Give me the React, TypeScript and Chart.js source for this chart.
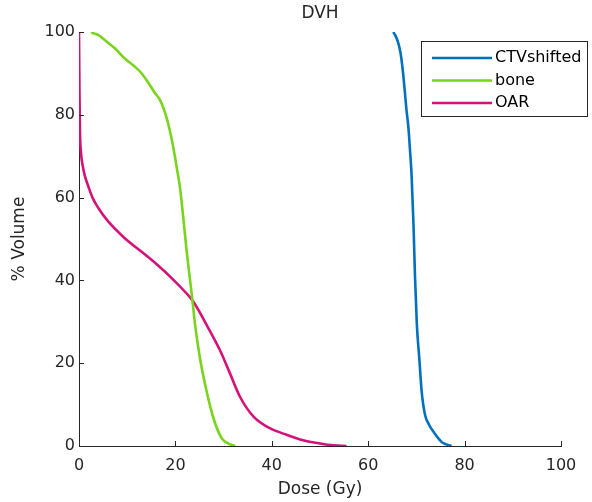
import React, { useEffect, useRef } from "react";
import { Chart, registerables } from "chart.js";

Chart.register(...registerables);

const titleText = "DVH";
const xTitle = "Dose (Gy)";
const yTitle = "% Volume";
const xTicks = [0, 20, 40, 60, 80, 100];
const yTicks = [0, 20, 40, 60, 80, 100];

const seriesNames = ["CTVshifted", "bone", "OAR"];
const seriesColors = ["#0072BD", "#78D41C", "#D4127A"];

const ctvDose = [65.2, 65.7, 66.2, 66.7, 67.2, 67.6, 68.0, 68.3, 68.7, 69.0, 69.4, 69.7, 70.1, 70.6, 71.1, 71.8, 72.6, 73.5, 75.2, 76.2, 77.3];
const ctvVol = [100, 99, 97.5, 95, 90.5, 85.6, 80.5, 77.5, 71, 65.5, 53.4, 41.3, 29.2, 21.2, 13.1, 7.5, 5.2, 3.5, 1.0, 0.4, 0];

const boneDose = [2.5, 3.2, 4.0, 5.4, 7.5, 9.5, 11.6, 12.7, 14.0, 15.8, 16.8, 18.2, 18.9, 19.6, 20.3, 21.0, 21.6, 22.3, 23.0, 23.5, 24.1, 25.1, 26.5, 27.9, 29.6, 31.0, 32.4];
const boneVol = [100, 99.6, 99.3, 98, 96, 93.6, 91.6, 90.4, 88.4, 85.2, 83.6, 79.2, 75.9, 71.9, 67.1, 62.0, 55.5, 47.5, 40.5, 35.5, 29.2, 21.2, 13.1, 6.7, 1.9, 0.6, 0];

const oarDose = [0, 0.1, 0.2, 0.4, 0.8, 1.2, 2.0, 2.8, 4.0, 6.1, 9.5, 13.0, 16.3, 19.8, 21.8, 23.7, 26.5, 29.3, 31.3, 33.4, 36.2, 39.6, 43.1, 46.5, 50.0, 52.8, 55.5];
const oarVol = [100, 85, 76, 71, 67.5, 65.3, 62.5, 60, 57.5, 54.2, 50.2, 46.9, 43.7, 39.9, 37.5, 34.9, 29.2, 23.0, 17.6, 11.9, 7.1, 4.3, 2.7, 1.4, 0.6, 0.15, 0];

const doses = [ctvDose, boneDose, oarDose];
const vols = [ctvVol, boneVol, oarVol];

const TEXT = "#262626";
const FONT = "'DejaVu Sans', sans-serif";

const decorPlugin = {
  id: "decor",
  afterDraw(chart: any) {
    const ctx = chart.ctx;
    const xs = chart.scales.x;
    const ys = chart.scales.y;
    const area = chart.chartArea;
    ctx.save();
    ctx.strokeStyle = TEXT;
    ctx.lineWidth = 1;
    ctx.beginPath();
    xTicks.forEach((t) => {
      const px = Math.round(xs.getPixelForValue(t)) + 0.5;
      ctx.moveTo(px, area.bottom);
      ctx.lineTo(px, area.bottom - 5);
    });
    yTicks.forEach((t) => {
      const py = Math.round(ys.getPixelForValue(t)) + 0.5;
      ctx.moveTo(area.left, py);
      ctx.lineTo(area.left + 5, py);
    });
    ctx.stroke();
    ctx.fillStyle = TEXT;
    ctx.font = "17px " + FONT;
    ctx.textAlign = "center";
    ctx.textBaseline = "middle";
    ctx.fillText(titleText, (area.left + area.right) / 2, 14);
    const bx = 421.5, by = 41.5, bw = 166, bh = 75;
    ctx.fillStyle = "#fff";
    ctx.fillRect(bx, by, bw, bh);
    ctx.strokeStyle = TEXT;
    ctx.lineWidth = 1;
    ctx.strokeRect(bx, by, bw, bh);
    const rows = [58, 80.5, 103];
    chart.data.datasets.forEach((ds: any, i: number) => {
      const y = rows[i];
      ctx.strokeStyle = ds.borderColor;
      ctx.lineWidth = 2.5;
      ctx.beginPath();
      ctx.moveTo(432, y);
      ctx.lineTo(492, y);
      ctx.stroke();
      ctx.fillStyle = "#000";
      ctx.font = "16px " + FONT;
      ctx.textAlign = "left";
      ctx.textBaseline = "middle";
      ctx.fillText(ds.label, 495, y);
    });
    ctx.restore();
  },
};

export default function App() {
  const ref = useRef<HTMLCanvasElement | null>(null);
  useEffect(() => {
    if (!ref.current) return;
    const chart = new Chart(ref.current, {
      type: "line",
      data: {
        datasets: seriesNames.map((name, i) => ({
          label: name,
          data: doses[i].map((d, j) => ({ x: d, y: vols[i][j] })),
          borderColor: seriesColors[i],
          backgroundColor: seriesColors[i],
          borderWidth: 2.6,
          pointRadius: 0,
          fill: false,
          cubicInterpolationMode: "monotone" as const,
        })),
      },
      plugins: [decorPlugin],
      options: {
        animation: false,
        responsive: false,
        layout: { padding: { left: 0, right: 31, top: 32, bottom: 0 } },
        plugins: { legend: { display: false }, title: { display: false }, tooltip: { enabled: false } },
        scales: {
          x: {
            type: "linear",
            min: 0,
            max: 100,
            afterFit: (s: any) => { s.height = 56; },
            afterBuildTicks: (s: any) => { s.ticks = xTicks.map((v) => ({ value: v })); },
            grid: { display: false, drawTicks: false },
            border: { display: true, color: TEXT, width: 1 },
            ticks: { color: TEXT, font: { family: FONT, size: 16 }, padding: 10, maxRotation: 0 },
            title: { display: true, text: xTitle, color: TEXT, font: { family: FONT, size: 17 }, padding: { top: 0, bottom: 2 } },
          },
          y: {
            type: "linear",
            min: 0,
            max: 100,
            afterFit: (s: any) => { s.width = 79; },
            afterBuildTicks: (s: any) => { s.ticks = yTicks.map((v) => ({ value: v })); },
            grid: { display: false, drawTicks: false },
            border: { display: true, color: TEXT, width: 1 },
            ticks: { color: TEXT, font: { family: FONT, size: 16 }, padding: 4 },
            title: { display: true, text: yTitle, color: TEXT, font: { family: FONT, size: 17 }, padding: { top: 9, bottom: 0 } },
          },
        },
      },
    });
    return () => chart.destroy();
  }, []);
  return (
    <div style={{ position: "fixed", left: 0, top: 0, width: 592, height: 502, background: "#fff" }}>
      <canvas ref={ref} width={592} height={502} style={{ display: "block" }} />
    </div>
  );
}
